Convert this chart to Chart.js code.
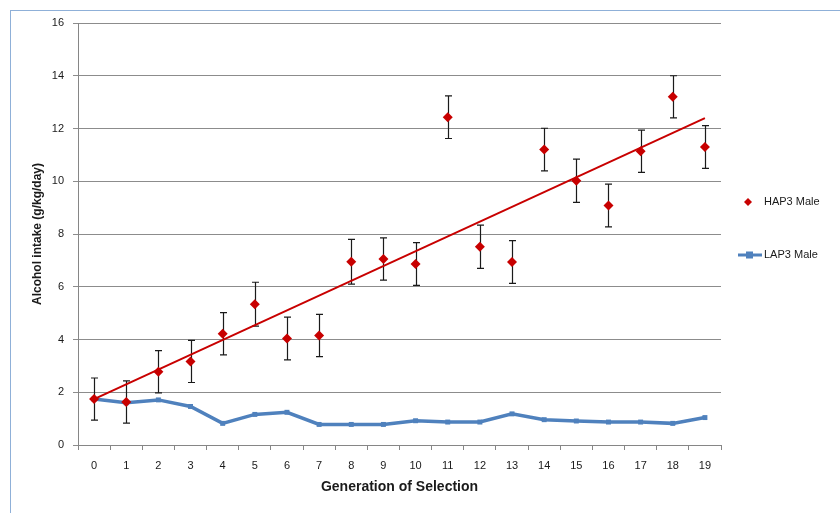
<!DOCTYPE html>
<html>
<head>
<meta charset="utf-8">
<script src="https://cdn.jsdelivr.net/npm/chart.js@4.4.1/dist/chart.umd.min.js"></script>
<style>
  html, body { margin: 0; padding: 0; background: #fff; }
  #wrap { position: relative; width: 840px; height: 513px; overflow: hidden; }
  #frame { position: absolute; left: 10px; top: 10px; width: 860px; height: 540px; border: 1px solid #8fb0d8; }
  canvas { position: absolute; left: 0; top: 0; }
</style>
</head>
<body>
<div id="wrap">
  <div id="frame"></div>
  <canvas id="chart" width="840" height="513"></canvas>
</div>
<script>
const generations = ["0","1","2","3","4","5","6","7","8","9","10","11","12","13","14","15","16","17","18","19"];
const hapMale = [1.74, 1.63, 2.78, 3.17, 4.22, 5.34, 4.04, 4.15, 6.95, 7.05, 6.86, 12.43, 7.52, 6.94, 11.2, 10.02, 9.08, 11.14, 13.2, 11.3];
const hapErr = [0.8, 0.8, 0.8, 0.8, 0.8, 0.83, 0.81, 0.8, 0.85, 0.8, 0.81, 0.81, 0.82, 0.81, 0.81, 0.82, 0.81, 0.8, 0.8, 0.81];
const lapMale = [1.74, 1.6, 1.71, 1.46, 0.82, 1.16, 1.24, 0.78, 0.78, 0.78, 0.92, 0.87, 0.87, 1.18, 0.96, 0.91, 0.87, 0.87, 0.82, 1.04];
// linear trendline of HAP3, ends
const trendStart = 1.74;
const trendEnd = 12.39;
const yTicks = [0, 2, 4, 6, 8, 10, 12, 14, 16];

const trend = generations.map((g, i) => i === 0 ? trendStart : (i === generations.length - 1 ? trendEnd : null));

const FONT = "'Liberation Sans', Arial, sans-serif";
const RED = "#c80000";
const BLUE = "#4f81bd";

// error bars for HAP3
const errorBars = {
  id: "errorBars",
  beforeDatasetsDraw(chart) {
    const ctx = chart.ctx;
    const meta = chart.getDatasetMeta(0);
    const y = chart.scales.y;
    ctx.save();
    ctx.strokeStyle = "#1a1a1a";
    ctx.lineWidth = 1.2;
    meta.data.forEach((pt, i) => {
      const x = Math.round(pt.x) + 0.5;
      const top = y.getPixelForValue(hapMale[i] + hapErr[i]);
      const bot = y.getPixelForValue(hapMale[i] - hapErr[i]);
      ctx.beginPath();
      ctx.moveTo(x, top); ctx.lineTo(x, bot);
      ctx.moveTo(x - 3.5, top); ctx.lineTo(x + 3.5, top);
      ctx.moveTo(x - 3.5, bot); ctx.lineTo(x + 3.5, bot);
      ctx.stroke();
    });
    ctx.restore();
  }
};

// legend on the right
const sideLegend = {
  id: "sideLegend",
  afterDraw(chart) {
    const ctx = chart.ctx;
    ctx.save();
    ctx.font = "11px " + FONT;
    ctx.textBaseline = "middle";
    // HAP3
    ctx.fillStyle = RED;
    ctx.beginPath();
    ctx.moveTo(748, 198); ctx.lineTo(752, 202); ctx.lineTo(748, 206); ctx.lineTo(744, 202);
    ctx.closePath(); ctx.fill();
    ctx.fillStyle = "#1a1a1a";
    ctx.fillText("HAP3 Male", 764, 202);
    // LAP3
    ctx.strokeStyle = BLUE;
    ctx.lineWidth = 3;
    ctx.beginPath(); ctx.moveTo(738, 255); ctx.lineTo(762, 255); ctx.stroke();
    ctx.fillStyle = BLUE;
    ctx.fillRect(746, 251.5, 7, 7);
    ctx.fillStyle = "#1a1a1a";
    ctx.fillText("LAP3 Male", 764, 255);
    ctx.restore();
  }
};

new Chart(document.getElementById("chart"), {
  type: "line",
  data: {
    labels: generations,
    datasets: [
      {
        label: "HAP3 Male",
        data: hapMale,
        showLine: false,
        pointStyle: "rectRot",
        pointRadius: 5,
        backgroundColor: RED,
        borderColor: RED,
        borderWidth: 0,
        order: 0
      },
      {
        label: "trend",
        data: trend,
        spanGaps: true,
        borderColor: RED,
        borderWidth: 2,
        pointRadius: 0,
        order: 1
      },
      {
        label: "LAP3 Male",
        data: lapMale,
        borderColor: BLUE,
        backgroundColor: BLUE,
        borderWidth: 3.5,
        pointStyle: "rect",
        pointRadius: 3.5,
        pointBorderWidth: 0,
        order: 2
      }
    ]
  },
  options: {
    responsive: false,
    animation: false,
    layout: { padding: { left: 30, right: 119, top: 23, bottom: 17 } },
    plugins: {
      legend: { display: false },
      tooltip: { enabled: false }
    },
    scales: {
      x: {
        offset: true,
        grid: { display: true, offset: true, drawOnChartArea: false, drawTicks: true, tickLength: 5, color: "#868686" },
        border: { color: "#868686" },
        ticks: { color: "#1a1a1a", font: { family: FONT, size: 11 }, padding: 9, maxRotation: 0, autoSkip: false },
        title: { display: true, text: "Generation of Selection", color: "#1a1a1a", font: { family: FONT, size: 14, weight: "bold" }, padding: { top: 4, bottom: 0 } },
        afterFit(s) { s.height = 51; }
      },
      y: {
        min: 0,
        max: 16,
        afterBuildTicks(s) { s.ticks = yTicks.map(v => ({ value: v })); },
        grid: { color: "#8c8c8c", tickLength: 5 },
        border: { color: "#868686" },
        ticks: { color: "#1a1a1a", font: { family: FONT, size: 11 }, padding: 9 },
        title: { display: true, text: "Alcohol intake (g/kg/day)", color: "#1a1a1a", font: { family: FONT, size: 12, weight: "bold" }, padding: { top: 0, bottom: 4 } },
        afterFit(s) { s.width = 48; }
      }
    }
  },
  plugins: [errorBars, sideLegend]
});
</script>
</body>
</html>
